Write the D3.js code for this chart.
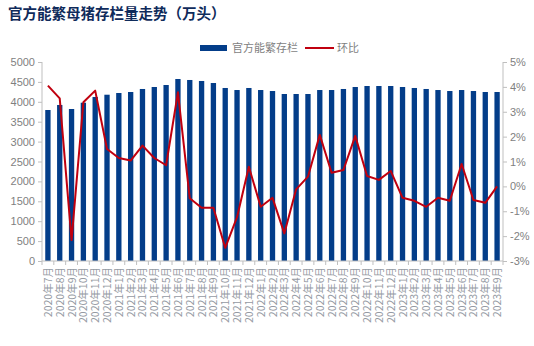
<!DOCTYPE html>
<html><head><meta charset="utf-8">
<script src="https://cdn.jsdelivr.net/npm/d3@7"></script>
<style>body{margin:0;background:#fff}svg{display:block}</style>
</head><body>
<script>
const months = ["2020年7月","2020年8月","2020年9月","2020年10月","2020年11月","2020年12月",
"2021年1月","2021年2月","2021年3月","2021年4月","2021年5月","2021年6月","2021年7月","2021年8月","2021年9月","2021年10月","2021年11月","2021年12月",
"2022年1月","2022年2月","2022年3月","2022年4月","2022年5月","2022年6月","2022年7月","2022年8月","2022年9月","2022年10月","2022年11月","2022年12月",
"2023年1月","2023年2月","2023年3月","2023年4月","2023年5月","2023年6月","2023年7月","2023年8月","2023年9月"];
const stock = [3794,3920,3819,3977,4121,4178,4221,4246,4322,4372,4422,4573,4548,4523,4472,4347,4296,4347,
4296,4271,4196,4196,4196,4296,4296,4322,4372,4397,4397,4397,4372,4347,4322,4296,4271,4296,4271,4246,4246];
const mom = [4.05,3.54,-2.16,3.38,3.85,1.50,1.14,1.04,1.64,1.14,0.85,3.78,-0.48,-0.86,-0.86,-2.47,-1.24,0.79,
-0.82,-0.46,-1.89,-0.12,0.39,2.07,0.55,0.66,2.03,0.42,0.26,0.62,-0.46,-0.58,-0.82,-0.46,-0.58,0.90,-0.55,-0.66,0.00];
const leftTicks = [0,500,1000,1500,2000,2500,3000,3500,4000,4500,5000];
const rightTicks = [-3,-2,-1,0,1,2,3,4,5];
const title = "官方能繁母猪存栏量走势（万头）";
const legendNames = ["官方能繁存栏","环比"];

const W=534,H=346;
const svg=d3.select("body").append("svg").attr("width",W).attr("height",H);
const x0=42,x1=503,yTop=62,yBot=261;
const x=d3.scaleBand().domain(months).range([x0,x1]).paddingInner(0.55).paddingOuter(0.275);
const yL=d3.scaleLinear().domain([0,5000]).range([yBot,yTop]);
const yR=d3.scaleLinear().domain([-3,5]).range([yBot,yTop]);
const gray="#7f7f7f", axisCol="#bfbfbf";
const fam="'Noto Sans CJK SC','Liberation Sans',sans-serif";

svg.append("text").attr("x",8).attr("y",19).text(title)
  .attr("font-family","'Noto Sans CJK SC',serif").attr("font-weight","bold").attr("font-size",14.5)
  .attr("fill","#0f2b5b");

// bars
svg.append("g").selectAll("rect").data(stock).join("rect")
  .attr("x",(d,i)=>x(months[i])).attr("width",x.bandwidth())
  .attr("y",d=>yL(d)).attr("height",d=>yBot-yL(d)).attr("fill","#033d89");

// line
const line=d3.line().x((d,i)=>x(months[i])+x.bandwidth()/2).y(d=>yR(d));
svg.append("path").datum(mom).attr("d",line).attr("fill","none").attr("stroke","#c0000f").attr("stroke-width",2).attr("stroke-linejoin","round");

// left axis
const gL=svg.append("g").attr("transform",`translate(${x0},0)`)
  .call(d3.axisLeft(yL).tickValues(leftTicks).tickSize(4).tickPadding(3).tickFormat(d3.format("d")));
// right axis
const gR=svg.append("g").attr("transform",`translate(${x1},0)`)
  .call(d3.axisRight(yR).tickValues(rightTicks).tickSize(4).tickPadding(3).tickFormat(d=>d+"%"));
[gL,gR].forEach(g=>{
  g.selectAll(".tick line").attr("stroke",axisCol);
  g.selectAll("text").attr("fill",gray).attr("font-size",11).attr("font-family","'Liberation Sans',Arial,sans-serif");
  g.select(".domain").attr("stroke",axisCol).attr("d",`M0,${yTop}V${yBot}`);
});

// bottom axis
const gB=svg.append("g").attr("transform",`translate(0,${yBot})`);
gB.append("line").attr("x1",x0).attr("x2",x1).attr("stroke",axisCol);
const step=x.step();
gB.selectAll("line.t").data(d3.range(months.length+1)).join("line").attr("class","t")
  .attr("x1",i=>x0+i*step).attr("x2",i=>x0+i*step).attr("y1",0).attr("y2",4).attr("stroke",axisCol);
gB.selectAll("text").data(months).join("text")
  .attr("transform",d=>`translate(${x(d)+x.bandwidth()/2+4},6) rotate(-90)`)
  .attr("text-anchor","end").attr("font-size",10.5).attr("fill","#959aa3")
  .attr("font-family",fam).text(d=>d);

// legend
const lg=svg.append("g");
lg.append("rect").attr("x",200).attr("y",45).attr("width",27).attr("height",6).attr("fill","#033d89");
lg.append("text").attr("x",232).attr("y",52).text(legendNames[0]).attr("font-size",11).attr("fill",gray).attr("font-family",fam);
lg.append("line").attr("x1",305).attr("x2",334).attr("y1",48).attr("y2",48).attr("stroke","#c0000f").attr("stroke-width",2);
lg.append("text").attr("x",337).attr("y",52).text(legendNames[1]).attr("font-size",11).attr("fill",gray).attr("font-family",fam);
</script>
</body></html>
